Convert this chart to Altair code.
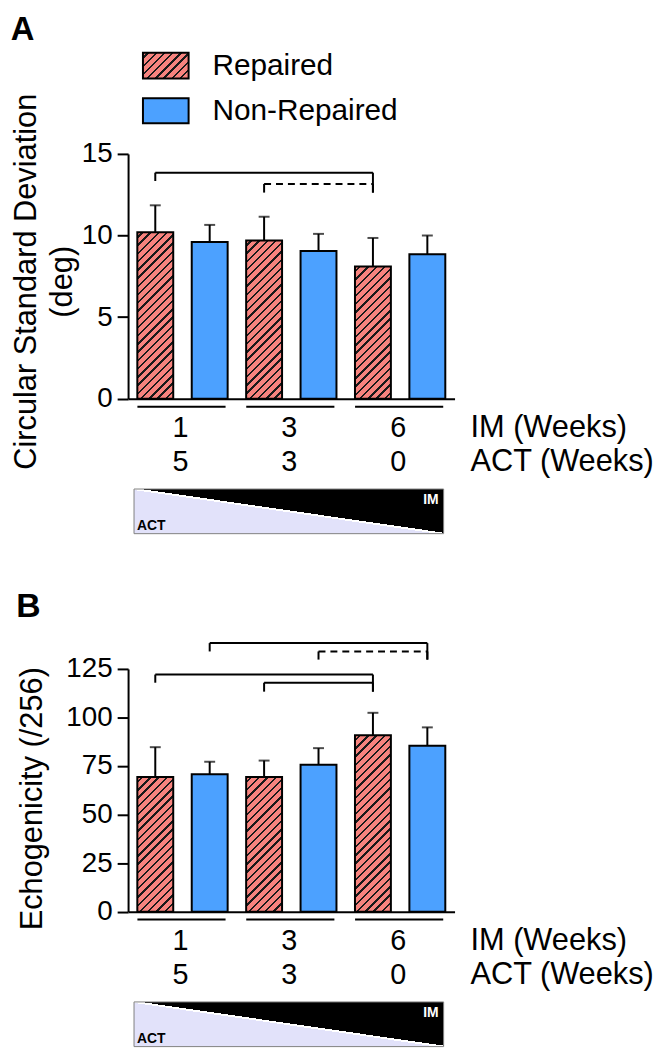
import altair as alt
import pandas as pd

FONT = "Liberation Sans"
RED = "#f7837e"
BLUE = "#4ca1ff"
LAV = "#e2e2fa"

im_weeks = ["1", "3", "6"]
act_weeks = ["5", "3", "0"]
groups = ["Repaired", "Non-Repaired"]
row_labels = ["IM (Weeks)", "ACT (Weeks)"]

# Panel A: circular standard deviation (deg)
a_repaired = [10.2, 9.7, 8.1]
a_repaired_top = [11.85, 11.15, 9.85]
a_nonrep = [9.6, 9.05, 8.85]
a_nonrep_top = [10.65, 10.1, 10.0]

# Panel B: echogenicity (/256)
b_repaired = [69.3, 69.3, 90.8]
b_repaired_top = [84.7, 77.8, 102.4]
b_nonrep = [70.8, 75.7, 85.4]
b_nonrep_top = [77.2, 84.2, 94.9]

# significance brackets
a_br_group = ["Repaired", "Repaired"]
a_br_from = ["1", "3"]
a_br_to = ["6", "6"]
a_br_top = [13.85, 13.16]
a_br_left = [13.34, 12.63]
a_br_right = [12.63, 12.63]
a_br_style = ["solid", "dashed"]

b_br_group = ["Non-Repaired", "Non-Repaired", "Repaired", "Repaired"]
b_br_from = ["1", "3", "1", "3"]
b_br_to = ["6", "6", "6", "6"]
b_br_top = [138.3, 134.0, 122.1, 117.9]
b_br_left = [134.0, 129.8, 117.9, 113.3]
b_br_right = [129.8, 129.8, 113.3, 113.3]
b_br_style = ["solid", "dashed", "solid", "solid"]

W = 329
PAD_IN = 0.34
STEP = W / 6
BW = STEP * (1 - PAD_IN)


def stop(c, o):
    return alt.GradientStop(color=c, offset=o)


def hatch(w, h, period=8.3, line=2.4, bg=RED, fg="#1a1a1a"):
    span = w + h
    c = span * w / (w * w + h * h)
    stops = [stop(bg, 0)]
    s = period * 0.5
    while s + line < span:
        a, b = s / span, (s + line) / span
        stops += [stop(bg, a), stop(fg, a), stop(fg, b), stop(bg, b)]
        s += period
    stops.append(stop(bg, 1))
    return alt.LinearGradient(gradient="linear", stops=stops, x1=0, y1=0, x2=c, y2=c * h / w)


box_fill = alt.LinearGradient(
    gradient="linear", x1=0, y1=1, x2=1, y2=0,
    stops=[stop(LAV, 0), stop(LAV, 0.489), stop("white", 0.489), stop("white", 0.511),
           stop("black", 0.511), stop("black", 1)],
)


def one(text):
    return alt.Chart(pd.DataFrame({"label": [text]}))


def panel(rep, rep_top, non, non_top, ymax, ystep, H,
          br_group, br_from, br_to, br_top, br_left, br_right, br_style,
          ytitle, title_pad, title_lh, title_shift, legend=False):
    keys, rows = [], []
    for i, w in enumerate(im_weeks):
        for g, v, t in (("Repaired", rep[i], rep_top[i]), ("Non-Repaired", non[i], non_top[i])):
            k = f"{w} {g}"
            keys.append(k)
            rows.append({"key": k, "week": w, "act": act_weeks[i], "group": g, "value": v, "top": t})
    df = pd.DataFrame(rows)
    pxu = H / ymax

    xscale = alt.Scale(domain=keys, paddingInner=PAD_IN, paddingOuter=PAD_IN / 2)
    yscale = alt.Scale(domain=[0, ymax], nice=False)
    xaxis = alt.Axis(labels=False, ticks=False, title=None, domainWidth=2, domainColor="black", grid=False)
    yaxis = alt.Axis(values=list(range(0, ymax + 1, ystep)), title=ytitle, titlePadding=title_pad,
                     titleLineHeight=title_lh, titleY=H / 2 + title_shift, grid=False, tickSize=11,
                     tickWidth=2, domainWidth=2, tickColor="black", domainColor="black", labelPadding=5)

    def X(f):
        return alt.X(f, scale=xscale, axis=xaxis)

    def Y(f):
        return alt.Y(f, scale=yscale, axis=yaxis)

    base = alt.Chart(df)
    layers = []
    layers.append(base.mark_rule(color="black", strokeWidth=2).encode(x=X("key:N"), y=Y("value:Q"), y2="top:Q"))
    layers.append(base.mark_tick(color="black", thickness=2, size=11).encode(x=X("key:N"), y=Y("top:Q")))
    layers.append(base.transform_filter(alt.datum.group == "Non-Repaired")
                  .mark_bar(fill=BLUE, stroke="black", strokeWidth=2)
                  .encode(x=X("key:N"), y=Y("value:Q")))
    for i, w in enumerate(im_weeks):
        layers.append(base.transform_filter(alt.datum.key == f"{w} Repaired")
                      .mark_bar(fill=hatch(BW, rep[i] * pxu), stroke="black", strokeWidth=2)
                      .encode(x=X("key:N"), y=Y("value:Q")))

    bdf = pd.DataFrame({
        "start": [f"{a} {g}" for a, g in zip(br_from, br_group)],
        "end": [f"{b} {g}" for b, g in zip(br_to, br_group)],
        "top": br_top, "left": br_left, "right": br_right, "style": br_style,
    })
    bb = alt.Chart(bdf)
    layers.append(bb.transform_filter(alt.datum.style == "solid")
                  .mark_rule(color="black", strokeWidth=2)
                  .encode(x=X("start:N"), x2=alt.X2("end:N"), y=Y("top:Q")))
    layers.append(bb.transform_filter(alt.datum.style == "dashed")
                  .mark_rule(color="black", strokeWidth=2, strokeDash=[7, 5])
                  .encode(x=X("start:N"), x2=alt.X2("end:N"), y=Y("top:Q")))
    layers.append(bb.mark_rule(color="black", strokeWidth=2).encode(x=X("start:N"), y=Y("top:Q"), y2="left:Q"))
    layers.append(bb.mark_rule(color="black", strokeWidth=2).encode(x=X("end:N"), y=Y("top:Q"), y2="right:Q"))

    udf = pd.DataFrame({"rkey": [f"{w} Repaired" for w in im_weeks],
                        "nkey": [f"{w} Non-Repaired" for w in im_weeks],
                        "week": im_weeks, "act": act_weeks})
    ub = alt.Chart(udf)
    layers.append(ub.mark_rule(color="black", strokeWidth=2, xOffset=-18, x2Offset=16)
                  .encode(x=X("rkey:N"), x2=alt.X2("nkey:N"), y=alt.value(H + 8)))
    layers.append(ub.mark_text(xOffset=STEP / 2 - 2, fontSize=29, color="black")
                  .encode(x=X("rkey:N"), y=alt.value(H + 30), text="week:N"))
    layers.append(ub.mark_text(xOffset=STEP / 2 - 2, fontSize=29, color="black")
                  .encode(x=X("rkey:N"), y=alt.value(H + 64), text="act:N"))
    layers.append(one(row_labels[0]).mark_text(align="left", fontSize=31, color="black")
                  .encode(x=alt.value(345), y=alt.value(H + 30), text="label:N"))
    layers.append(one(row_labels[1]).mark_text(align="left", fontSize=31, color="black")
                  .encode(x=alt.value(345), y=alt.value(H + 64), text="label:N"))

    layers.append(one("box").mark_rect(fill=box_fill, stroke="#808080", strokeWidth=1)
                  .encode(x=alt.value(6), x2=alt.value(318), y=alt.value(H + 91), y2=alt.value(H + 136)))
    layers.append(one("IM").mark_text(align="right", fontSize=14, fontWeight="bold", color="white")
                  .encode(x=alt.value(313), y=alt.value(H + 102), text="label:N"))
    layers.append(one("ACT").mark_text(align="left", fontSize=14, fontWeight="bold", color="black")
                  .encode(x=alt.value(9), y=alt.value(H + 128), text="label:N"))

    if legend:
        layers.append(one(groups[0]).mark_rect(fill=hatch(46, 26), stroke="black", strokeWidth=2)
                      .encode(x=alt.value(15), x2=alt.value(61), y=alt.value(-102), y2=alt.value(-76)))
        layers.append(one(groups[1]).mark_rect(fill=BLUE, stroke="black", strokeWidth=2)
                      .encode(x=alt.value(15), x2=alt.value(61), y=alt.value(-56), y2=alt.value(-31)))
        layers.append(one(groups[0]).mark_text(align="left", fontSize=30, color="black")
                      .encode(x=alt.value(85), y=alt.value(-89), text="label:N"))
        layers.append(one(groups[1]).mark_text(align="left", fontSize=30, color="black")
                      .encode(x=alt.value(85), y=alt.value(-43), text="label:N"))

    return alt.layer(*layers).properties(width=W, height=H)


panel_a = panel(a_repaired, a_repaired_top, a_nonrep, a_nonrep_top, 15, 5, 246.7,
                a_br_group, a_br_from, a_br_to, a_br_top, a_br_left, a_br_right, a_br_style,
                ["Circular  Standard Deviation", "(deg)"], 3, 36, 5, legend=True)

panel_b = panel(b_repaired, b_repaired_top, b_nonrep, b_nonrep_top, 125, 25, 244.6,
                b_br_group, b_br_from, b_br_to, b_br_top, b_br_left, b_br_right, b_br_style,
                "Echogenicity  (/256)", 18, 34, 8).properties(
    title=alt.TitleParams("B", anchor="start", frame="bounds", fontSize=34, fontWeight="bold",
                          font=FONT, color="black", offset=18))

chart = alt.vconcat(panel_a, panel_b, spacing=55).properties(
    padding={"left": 2, "top": 2, "right": 0, "bottom": 0},
    title=alt.TitleParams("A", anchor="start", frame="bounds", fontSize=33, fontWeight="bold",
                          font=FONT, color="black", offset=4),
).configure_axis(
    labelFont=FONT, titleFont=FONT, labelFontSize=28, titleFontSize=31,
    titleFontWeight="normal", labelColor="black", titleColor="black",
).configure_text(font=FONT).configure_view(stroke=None)

chart.save("out.html", embed_options={"renderer": "svg", "actions": False})
